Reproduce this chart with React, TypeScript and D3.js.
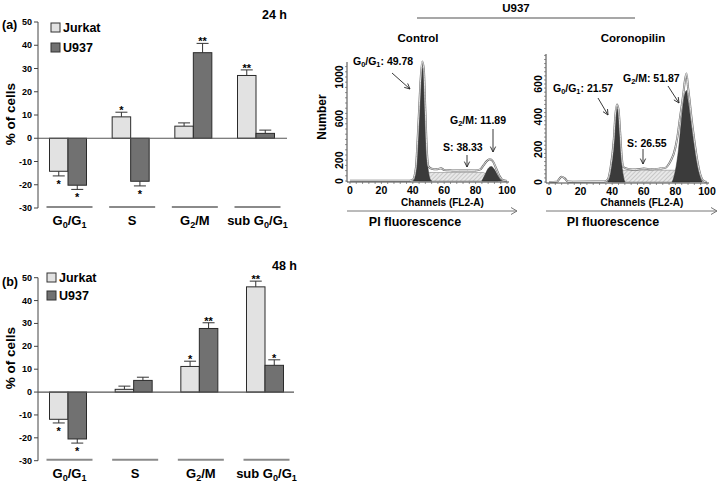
import React from "react";
import * as d3 from "d3";

// ---------- Bar chart data ----------
const phases = ["G0/G1", "S", "G2/M", "sub G0/G1"];
const seriesNames = ["Jurkat", "U937"];

const jurkat24 = [-14.2, 9.2, 5.2, 27];
const jurkat24Err = [2.0, 2.0, 1.4, 2.4];
const u93724 = [-20.2, -18.5, 36.8, 2.1];
const u93724Err = [1.8, 2.0, 4.0, 1.4];
const jurkat24Sig = ["*", "*", "", "**"];
const u93724Sig = ["*", "*", "**", ""];

const jurkat48 = [-11.9, 1.2, 11.2, 46];
const jurkat48Err = [1.6, 1.4, 2.3, 2.5];
const u93748 = [-20.5, 5.1, 27.8, 11.7];
const u93748Err = [1.8, 1.4, 2.5, 2.4];
const jurkat48Sig = ["*", "", "*", "**"];
const u93748Sig = ["*", "", "**", "*"];

const yTicksBar = [50, 40, 30, 20, 10, 0, -10, -20, -30];

// ---------- Histogram data (channel, count) ----------
const ctrlRaw: [number, number][] = [[0, 2], [38, 3], [40, 12], [42, 130], [43, 380], [44, 680], [45, 980], [46, 1150], [47, 1080], [48, 680], [49, 280], [50, 140], [52, 118], [55, 112], [58, 122], [60, 106], [65, 102], [70, 100], [75, 100], [80, 102], [83, 112], [85, 150], [87, 190], [89, 210], [91, 190], [93, 125], [95, 55], [97, 12], [100, 0]];
const ctrlG1: [number, number][] = [[40, 0], [41, 20], [42, 110], [43, 330], [44, 620], [45, 920], [46, 1090], [47, 1010], [48, 620], [49, 250], [50, 90], [51, 20], [52, 0]];
const ctrlS: [number, number][] = [[44, 0], [50, 82], [85, 82], [94, 0]];
const ctrlG2: [number, number][] = [[84, 0], [86, 60], [88, 120], [90, 140], [92, 110], [94, 55], [96, 12], [97, 0]];

const corRaw: [number, number][] = [[0, 0], [5, 2], [7, 25], [8, 32], [10, 22], [12, 3], [15, 2], [35, 3], [37, 12], [39, 90], [41, 260], [42, 410], [43, 475], [44, 445], [45, 310], [46, 160], [47, 92], [50, 80], [55, 76], [60, 82], [65, 78], [70, 82], [74, 88], [76, 112], [78, 150], [79, 175], [81, 260], [83, 400], [85, 540], [86, 620], [87, 665], [88, 580], [89, 500], [90, 410], [92, 255], [94, 125], [96, 40], [98, 5], [100, 0]];
const corG1: [number, number][] = [[37, 0], [39, 60], [41, 230], [42, 380], [43, 450], [44, 420], [45, 280], [46, 120], [47, 40], [48, 0]];
const corS: [number, number][] = [[40, 0], [45, 72], [80, 72], [89, 0]];
const corG2: [number, number][] = [[78, 0], [80, 70], [82, 200], [84, 400], [85, 490], [86, 540], [87, 560], [88, 500], [89, 430], [90, 360], [92, 220], [94, 100], [96, 25], [97, 0]];

const ctrlYLabels = [0, 200, 600, 1000];
const corYLabels = [0, 200, 400, 600];
const xLabels = [0, 20, 40, 60, 80, 100];

const FONT = "Liberation Sans, Arial, Helvetica, sans-serif";

function PhaseLabel({ name, x, y, size }: { name: string; x: number; y: number; size: number }) {
  const sub = { fontSize: size * 0.7 } as any;
  if (name === "G0/G1") {
    return (
      <text x={x} y={y} textAnchor="middle" fontSize={size} fontWeight="bold" fontFamily={FONT}>
        G<tspan {...sub} dy={3}>0</tspan><tspan dy={-3}>/G</tspan><tspan {...sub} dy={3}>1</tspan>
      </text>
    );
  }
  if (name === "G2/M") {
    return (
      <text x={x} y={y} textAnchor="middle" fontSize={size} fontWeight="bold" fontFamily={FONT}>
        G<tspan {...sub} dy={3}>2</tspan><tspan dy={-3}>/M</tspan>
      </text>
    );
  }
  if (name === "sub G0/G1") {
    return (
      <text x={x} y={y} textAnchor="middle" fontSize={size} fontWeight="bold" fontFamily={FONT}>
        sub G<tspan {...sub} dy={3}>0</tspan><tspan dy={-3}>/G</tspan><tspan {...sub} dy={3}>1</tspan>
      </text>
    );
  }
  return (
    <text x={x} y={y} textAnchor="middle" fontSize={size} fontWeight="bold" fontFamily={FONT}>{name}</text>
  );
}

type BarProps = {
  top: number; bottom: number; x0: number; c0: number; c1: number; zeroEnd: number;
  a: number[]; aErr: number[]; aSig: string[]; b: number[]; bErr: number[]; bSig: string[];
  tag: string; time: string; tagY: number; timeX: number; timeY: number;
  legX: number; legY: number; legGap: number; labelY: number; ylabY: number;
};

function BarPanel(p: BarProps) {
  const y = d3.scaleLinear().domain([-30, 50]).range([p.bottom, p.top]);
  const xc = d3.scalePoint<string>().domain(phases).range([p.c0, p.c1]);
  const bw = 18.5;
  const colors = ["#e2e2e2", "#717171"];
  const sets = [
    { v: p.a, e: p.aErr, s: p.aSig, off: -bw, fill: colors[0] },
    { v: p.b, e: p.bErr, s: p.bSig, off: 0, fill: colors[1] },
  ];
  return (
    <g fontFamily={FONT}>
      <text x={2} y={p.tagY} fontSize={12.5} fontWeight="bold">{p.tag}</text>
      <text x={p.timeX} y={p.timeY} fontSize={12.5} fontWeight="bold" textAnchor="end">{p.time}</text>
      <line x1={p.x0} x2={p.x0} y1={y(50)} y2={y(-30)} stroke="#444" strokeWidth={1} />
      {yTicksBar.map((t) => (
        <g key={t}>
          <line x1={p.x0 - 4} x2={p.x0} y1={y(t)} y2={y(t)} stroke="#444" />
          <text x={p.x0 - 6} y={y(t) + 3} fontSize={9} fontWeight="bold" textAnchor="end">{t}</text>
        </g>
      ))}
      <text transform={`translate(15,${p.ylabY}) rotate(-90)`} textAnchor="middle" fontSize={13.5} fontWeight="bold">% of cells</text>
      {phases.map((ph, i) =>
        sets.map((s, j) => {
          const cx = xc(ph)!;
          const v = s.v[i];
          const bx = cx + s.off;
          const y0 = y(0);
          const yv = y(v);
          const ye = y(v + (v >= 0 ? s.e[i] : -s.e[i]));
          const mid = bx + bw / 2;
          const starBase = v >= 0 ? ye + 2 : ye + 12;
          return (
            <g key={ph + j}>
              <line x1={mid} x2={mid} y1={yv} y2={ye} stroke="#333" strokeWidth={1} />
              <line x1={mid - 6} x2={mid + 6} y1={ye} y2={ye} stroke="#333" strokeWidth={1} />
              <rect x={bx} y={Math.min(y0, yv)} width={bw} height={Math.abs(yv - y0)} fill={s.fill} stroke="#2a2a2a" strokeWidth={1} />
              {s.s[i] && (
                <text x={mid} y={starBase} fontSize={11} fontWeight="bold" textAnchor="middle">{s.s[i]}</text>
              )}
            </g>
          );
        })
      )}
      <line x1={p.x0} x2={p.zeroEnd} y1={y(0)} y2={y(0)} stroke="#555" strokeWidth={1.2} />
      {phases.map((ph) => {
        const c = xc(ph)! + 1.5;
        return (
          <g key={"g" + ph}>
            <line x1={c - 23} x2={c + 23} y1={p.bottom - 1} y2={p.bottom - 1} stroke="#8a8a8a" strokeWidth={2} />
            <PhaseLabel name={ph} x={c} y={p.labelY} size={13} />
          </g>
        );
      })}
      {seriesNames.map((n, i) => (
        <g key={n}>
          <rect x={p.legX} y={p.legY + i * p.legGap} width={9} height={9} fill={colors[i]} stroke="#333" />
          <text x={p.legX + 12} y={p.legY + i * p.legGap + 9} fontSize={12.5} fontWeight="bold">{n}</text>
        </g>
      ))}
    </g>
  );
}

type HistProps = {
  xr: [number, number]; yr: [number, number]; ymax: number; ydomTop: number; axisTop: number;
  raw: [number, number][]; g1: [number, number][]; s: [number, number][]; g2: [number, number][];
  ylabels: number[]; yminor: number; title: string; titleX: number;
  ann: { label: string; val: string; tx: number; ty: number; ax1: number; ay1: number; ax2: number; ay2: number }[];
  fluorX: number; showNumber: boolean;
};

function Annot({ label, val, tx, ty }: { label: string; val: string; tx: number; ty: number }) {
  const fs = 10.5;
  const sub = { fontSize: fs * 0.7 } as any;
  let content: any;
  if (label === "G0/G1") content = (<>G<tspan {...sub} dy={2}>0</tspan><tspan dy={-2}>/G</tspan><tspan {...sub} dy={2}>1</tspan><tspan dy={-2}>: {val}</tspan></>);
  else if (label === "G2/M") content = (<>G<tspan {...sub} dy={2}>2</tspan><tspan dy={-2}>/M: {val}</tspan></>);
  else content = `${label}: ${val}`;
  return <text x={tx} y={ty} fontSize={fs} fontWeight="bold" fontFamily={FONT}>{content}</text>;
}

function HistPanel(p: HistProps) {
  const x = d3.scaleLinear().domain([0, 100]).range(p.xr);
  const y = d3.scaleLinear().domain([0, p.ymax]).range(p.yr);
  const area = d3.area<[number, number]>().x((d) => x(d[0])).y0(y(0)).y1((d) => y(d[1])).curve(d3.curveMonotoneX);
  const areaLin = d3.area<[number, number]>().x((d) => x(d[0])).y0(y(0)).y1((d) => y(d[1]));
  const line = d3.line<[number, number]>().x((d) => x(d[0])).y((d) => y(d[1])).curve(d3.curveMonotoneX);
  const ax = p.xr[0] - 3;
  const xMinor = d3.range(0, 101, 4);
  const yMinor = d3.range(0, p.ydomTop + 1, p.yminor);
  const arrowEnd = p.xr[1] + 10;
  return (
    <g fontFamily={FONT}>
      <text x={p.titleX} y={42} fontSize={11.5} fontWeight="bold" textAnchor="middle">{p.title}</text>
      {p.showNumber && (
        <text transform={`translate(326,117) rotate(-90)`} fontSize={12} fontWeight="bold" textAnchor="middle">Number</text>
      )}
      <path d={area(p.raw)!} fill="#ffffff" stroke="none" />
      <path d={areaLin(p.s)!} fill="url(#hatch)" stroke="#777" strokeWidth={0.5} />
      <path d={area(p.g1)!} fill="#3b3b3b" stroke="#2a2a2a" strokeWidth={0.5} />
      <path d={area(p.g2)!} fill="#3b3b3b" stroke="#2a2a2a" strokeWidth={0.5} />
      <path d={line(p.raw)!} fill="none" stroke="#666" strokeWidth={2} />
      <path d={line(p.raw)!} fill="none" stroke="#fff" strokeWidth={0.8} />
      <line x1={ax} x2={ax} y1={p.axisTop} y2={y(0) + 1} stroke="#444" strokeWidth={1} />
      <line x1={ax} x2={p.xr[1] + 2} y1={y(0) + 1} y2={y(0) + 1} stroke="#444" strokeWidth={1} />
      {yMinor.map((t) => (
        <line key={"ym" + t} x1={ax - 2} x2={ax} y1={y(t)} y2={y(t)} stroke="#666" strokeWidth={0.7} />
      ))}
      {xMinor.map((t) => (
        <line key={"xm" + t} x1={x(t)} x2={x(t)} y1={y(0) + 1} y2={y(0) + 3} stroke="#666" strokeWidth={0.7} />
      ))}
      {p.ylabels.map((t) => (
        <text key={"yl" + t} transform={`translate(${ax - 4},${y(t)}) rotate(-90)`} fontSize={10.5} fontWeight="bold" textAnchor="middle">{t}</text>
      ))}
      {xLabels.map((t) => (
        <text key={"xl" + t} x={x(t)} y={y(0) + 13} fontSize={10.5} fontWeight="bold" textAnchor="middle">{t}</text>
      ))}
      <text x={(p.xr[0] + p.xr[1]) / 2 + 14} y={206} fontSize={10} fontWeight="bold" textAnchor="middle">Channels (FL2-A)</text>
      <line x1={ax} x2={arrowEnd} y1={211} y2={211} stroke="#777" strokeWidth={1} />
      <path d={`M${arrowEnd - 6},${207.5} L${arrowEnd},211 L${arrowEnd - 6},${214.5}`} fill="none" stroke="#777" strokeWidth={1} />
      <text x={p.fluorX} y={226} fontSize={12.5} fontWeight="bold" textAnchor="middle">PI fluorescence</text>
      {p.ann.map((a, i) => (
        <g key={"an" + i}>
          <Annot label={a.label} val={a.val} tx={a.tx} ty={a.ty} />
          <line x1={a.ax1} y1={a.ay1} x2={a.ax2} y2={a.ay2} stroke="#222" strokeWidth={0.9} />
          {(() => {
            const ang = Math.atan2(a.ay2 - a.ay1, a.ax2 - a.ax1);
            const L = 6, w = 0.45;
            const p1 = [a.ax2 - L * Math.cos(ang - w), a.ay2 - L * Math.sin(ang - w)];
            const p2 = [a.ax2 - L * Math.cos(ang + w), a.ay2 - L * Math.sin(ang + w)];
            return <path d={`M${p1[0]},${p1[1]} L${a.ax2},${a.ay2} L${p2[0]},${p2[1]}`} fill="none" stroke="#222" strokeWidth={0.9} />;
          })()}
        </g>
      ))}
    </g>
  );
}

export default function App() {
  return (
    <svg width={720} height={484} style={{ position: "absolute", left: 0, top: 0, background: "#fff" }}>
      <defs>
        <pattern id="hatch" patternUnits="userSpaceOnUse" width={3} height={3} patternTransform="rotate(45)">
          <rect width={3} height={3} fill="#e8e8e8" />
          <line x1={0} y1={0} x2={0} y2={3} stroke="#a8a8a8" strokeWidth={1} />
        </pattern>
      </defs>
      <rect width={720} height={484} fill="#fff" />
      <BarPanel top={22} bottom={208} x0={38} c0={68} c1={256} zeroEnd={287}
        a={jurkat24} aErr={jurkat24Err} aSig={jurkat24Sig} b={u93724} bErr={u93724Err} bSig={u93724Sig}
        tag="(a)" time="24 h" tagY={29} timeX={287} timeY={19}
        legX={51} legY={23} legGap={20} labelY={225} ylabY={114} />
      <BarPanel top={277.7} bottom={460.7} x0={38} c0={68} c1={265} zeroEnd={294}
        a={jurkat48} aErr={jurkat48Err} aSig={jurkat48Sig} b={u93748} bErr={u93748Err} bSig={u93748Sig}
        tag="(b)" time="48 h" tagY={286} timeX={297} timeY={270}
        legX={47} legY={273} legGap={18} labelY={478} ylabY={358} />
      <g fontFamily={FONT}>
        <text x={516} y={12} fontSize={11.5} fontWeight="bold" textAnchor="middle">U937</text>
        <line x1={417} x2={635} y1={18} y2={18} stroke="#8a8a8a" strokeWidth={1.5} />
      </g>
      <HistPanel xr={[350, 507]} yr={[181, 77]} ymax={1000} ydomTop={1100} axisTop={62}
        raw={ctrlRaw} g1={ctrlG1} s={ctrlS} g2={ctrlG2}
        ylabels={ctrlYLabels} yminor={50} title="Control" titleX={418}
        fluorX={415} showNumber={true}
        ann={[
          { label: "G0/G1", val: "49.78", tx: 353, ty: 65, ax1: 392, ay1: 73, ax2: 410, ay2: 89 },
          { label: "G2/M", val: "11.89", tx: 450, ty: 124, ax1: 493, ay1: 129, ax2: 493, ay2: 152 },
          { label: "S", val: "38.33", tx: 443, ty: 151, ax1: 467, ay1: 155, ax2: 467, ay2: 167 },
        ]} />
      <HistPanel xr={[549, 707]} yr={[182, 84]} ymax={600} ydomTop={775} axisTop={54}
        raw={corRaw} g1={corG1} s={corS} g2={corG2}
        ylabels={corYLabels} yminor={25} title="Coronopilin" titleX={633}
        fluorX={613} showNumber={false}
        ann={[
          { label: "G0/G1", val: "21.57", tx: 553, ty: 92, ax1: 598, ay1: 98, ax2: 608, ay2: 115 },
          { label: "G2/M", val: "51.87", tx: 623, ty: 82, ax1: 668, ay1: 86, ax2: 679, ay2: 103 },
          { label: "S", val: "26.55", tx: 627, ty: 147, ax1: 643, ay1: 149, ax2: 643, ay2: 164 },
        ]} />
    </svg>
  );
}
